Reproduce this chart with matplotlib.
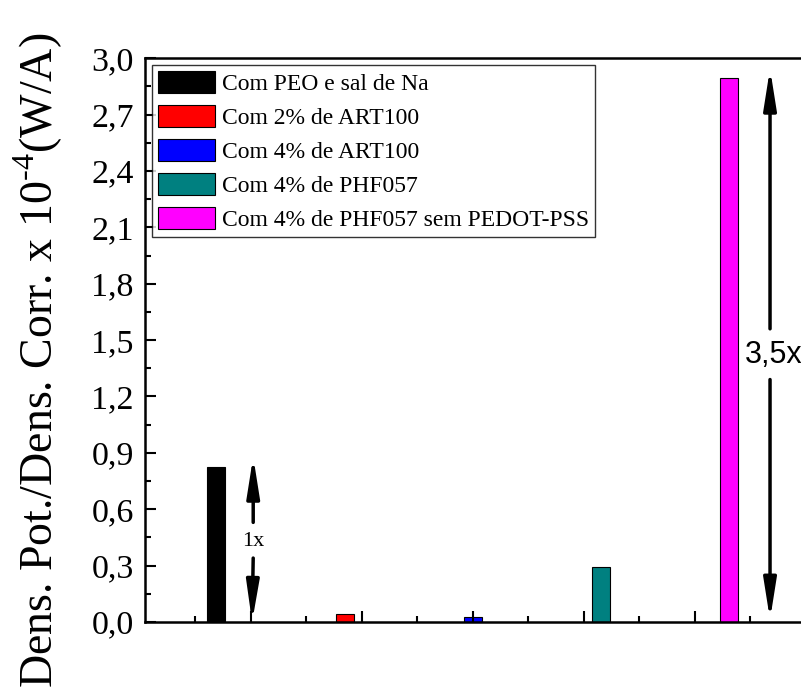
import matplotlib.pyplot as plt
from matplotlib.ticker import MultipleLocator, FuncFormatter

# data
labels = ["Com PEO e sal de Na", "Com 2% de ART100", "Com 4% de ART100",
          "Com 4% de PHF057", "Com 4% de PHF057 sem PEDOT-PSS"]
values = [0.826, 0.043, 0.027, 0.290, 2.895]
colors = ["#000000", "#ff0000", "#0000ff", "#008080", "#ff00ff"]
xpos = [0.685, 1.847, 3.0, 4.153, 5.306]

plt.rcParams["font.family"] = ["Liberation Serif", "DejaVu Serif"]
plt.rcParams["mathtext.fontset"] = "custom"
plt.rcParams["mathtext.rm"] = "Liberation Serif"

fig = plt.figure(figsize=(8.01, 6.93), dpi=100)
ax = fig.add_axes([0.181, 0.1025, 0.819, 0.8135])

for x, v, c, lab in zip(xpos, values, colors, labels):
    ax.bar(x, v, width=0.16, color=c, edgecolor="black", linewidth=0.8, label=lab)

ax.set_xlim(0.045, 5.955)
ax.set_ylim(0, 3.0)

ax.xaxis.set_major_locator(MultipleLocator(1))
ax.xaxis.set_minor_locator(MultipleLocator(0.5))
ax.yaxis.set_major_locator(MultipleLocator(0.3))
ax.yaxis.set_minor_locator(MultipleLocator(0.15))
ax.yaxis.set_major_formatter(FuncFormatter(lambda v, p: f"{v:.1f}".replace(".", ",")))
ax.tick_params(axis="both", which="both", direction="in", top=False, right=False, width=1.5)
ax.tick_params(axis="both", which="major", length=8)
ax.tick_params(axis="both", which="minor", length=4)
ax.tick_params(axis="x", labelbottom=False)
ax.tick_params(axis="y", labelsize=24.5, pad=8)

for s in ["left", "bottom", "top"]:
    ax.spines[s].set_linewidth(1.8)
ax.spines["right"].set_visible(False)

ax.set_ylabel("Dens. Pot./Dens. Corr. x 10$^{\\mathrm{\u2010}4}$(W/A)", fontsize=33)
ax.yaxis.set_label_coords(-0.122, 0.4645)

leg = ax.legend(loc="upper left", fontsize=17, frameon=True, fancybox=False,
                edgecolor="black", handlelength=2.4, handleheight=1.05,
                labelspacing=0.42, handletextpad=0.3, borderpad=0.25,
                borderaxespad=0.3)
leg.get_frame().set_linewidth(1.0)

arrow = dict(arrowstyle="-|>,head_length=2.4,head_width=0.38", color="black",
             lw=2.5, shrinkA=0, shrinkB=0)

# 1x arrows
ax.annotate("", xy=(1.02, 0.88), xytext=(1.02, 0.53), arrowprops=arrow)
ax.annotate("", xy=(1.01, 0.0), xytext=(1.02, 0.34), arrowprops=arrow)
ax.text(1.02, 0.43, "1x", fontsize=16, ha="center", va="center")

# 3,5x arrows
ax.annotate("", xy=(5.676, 2.945), xytext=(5.676, 1.56), arrowprops=arrow)
ax.annotate("", xy=(5.676, 0.012), xytext=(5.676, 1.29), arrowprops=arrow)
ax.text(5.71, 1.42, "3,5x", fontsize=22, ha="center", va="center",
        family="Liberation Sans")

fig.savefig("out.png", dpi=100)
